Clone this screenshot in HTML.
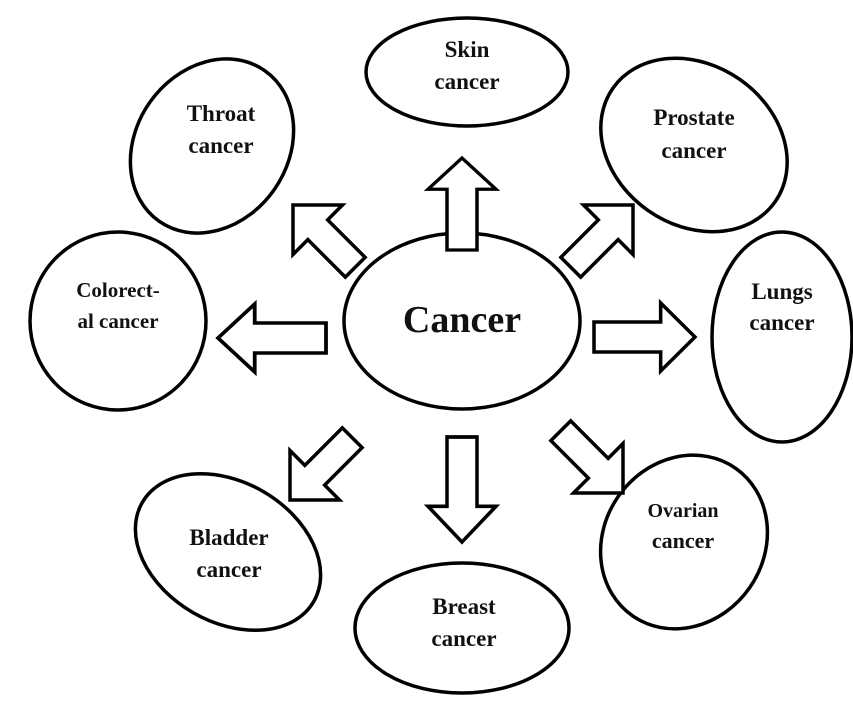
<!DOCTYPE html>
<html><head><style>
body{margin:0;background:#fff}
svg{display:block}
text{font-family:"Liberation Serif",serif;font-weight:bold;text-anchor:middle;fill:#111}
</style></head><body>
<svg width="853" height="702" viewBox="0 0 853 702">
<g fill="none" stroke="#000" stroke-width="3.5">
<ellipse cx="462" cy="321" rx="118" ry="88"/>
<ellipse cx="467" cy="72" rx="101" ry="54"/>
<ellipse cx="212" cy="146" rx="92" ry="76" transform="rotate(-55 212 146)"/>
<ellipse cx="694" cy="145" rx="99" ry="80" transform="rotate(35 694 145)"/>
<ellipse cx="118" cy="321" rx="88" ry="89"/>
<ellipse cx="782" cy="337" rx="70" ry="105"/>
<ellipse cx="228" cy="552" rx="99" ry="70" transform="rotate(30 228 552)"/>
<ellipse cx="462" cy="628" rx="107" ry="65"/>
<ellipse cx="684" cy="542" rx="90" ry="80" transform="rotate(-55 684 542)"/>
</g>
<defs>
<polygon id="a" points="0,0 -34,-34 -34,-15 -100,-15 -100,15 -34,15 -34,34" fill="#fff" stroke="#000" stroke-width="3.5" stroke-linejoin="miter"/>
<polygon id="d" points="0,0 -35,-35 -35,-14 -88,-14 -88,14 -35,14 -35,35" fill="#fff" stroke="#000" stroke-width="3.5" stroke-linejoin="miter"/>
</defs>
<use href="#a" transform="translate(462,158) rotate(-90) scale(0.92,1)"/>
<use href="#a" transform="translate(462,542) rotate(90) scale(1.05,1)"/>
<use href="#a" transform="translate(218,338) rotate(180) scale(1.08,1)"/>
<use href="#a" transform="translate(695,337) scale(1.01,1)"/>
<use href="#d" transform="translate(293,205) rotate(-135)"/>
<use href="#d" transform="translate(633,205) rotate(-45)"/>
<use href="#d" transform="translate(290,500) rotate(135)"/>
<use href="#d" transform="translate(623,493) rotate(45)"/>
<text x="462" y="332" font-size="38">Cancer</text>
<text x="467" y="57" font-size="23">Skin</text>
<text x="467" y="89" font-size="23">cancer</text>
<text x="221" y="121" font-size="23">Throat</text>
<text x="221" y="153" font-size="23">cancer</text>
<text x="694" y="125" font-size="23">Prostate</text>
<text x="694" y="158" font-size="23">cancer</text>
<text x="118" y="297" font-size="21">Colorect-</text>
<text x="118" y="328" font-size="21">al cancer</text>
<text x="782" y="299" font-size="23">Lungs</text>
<text x="782" y="330" font-size="23">cancer</text>
<text x="229" y="545" font-size="23">Bladder</text>
<text x="229" y="577" font-size="23">cancer</text>
<text x="464" y="614" font-size="23">Breast</text>
<text x="464" y="646" font-size="23">cancer</text>
<text x="683" y="517" font-size="20">Ovarian</text>
<text x="683" y="548" font-size="22">cancer</text>
</svg>
</body></html>
